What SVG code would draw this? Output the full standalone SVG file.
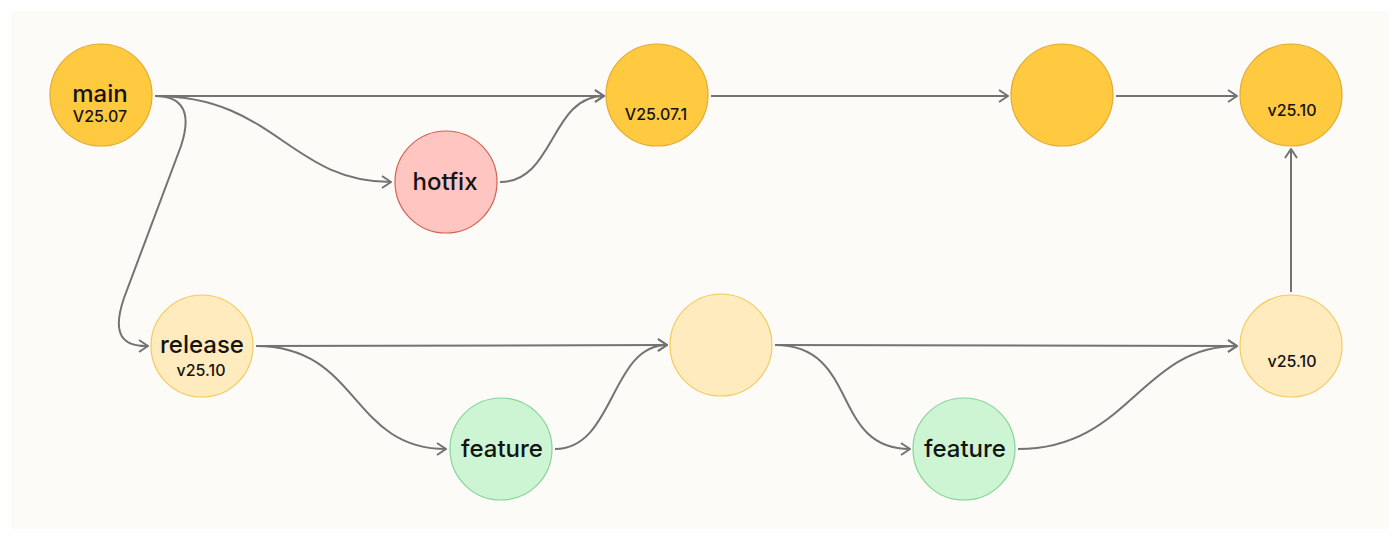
<svg xmlns="http://www.w3.org/2000/svg" width="1400" height="540" viewBox="0 0 1400 540">
<defs>
<style>
.edge{fill:none;stroke:#737373;stroke-width:2;}
.main{fill:#FFC940;stroke:#E3AA2F;stroke-width:1.2;}
.rel{fill:#FFEBBE;stroke:#F2CB5E;stroke-width:1.2;}
.hot{fill:#FFC6C1;stroke:#D5604D;stroke-width:1.2;}
.feat{fill:#CDF5D4;stroke:#85D495;stroke-width:1.2;}
text{font-family:Inter,"Noto Sans","Liberation Sans",sans-serif;fill:#141414;text-anchor:middle;font-weight:500;}
.big{font-size:24px;}
.small{font-size:16px;}
</style>
<marker id="arr" viewBox="0 0 12 14" refX="11" refY="7" markerWidth="12" markerHeight="14" markerUnits="userSpaceOnUse" orient="auto">
<path d="M2,1 L11,7 L2,13" fill="none" stroke="#737373" stroke-width="2"/>
</marker>
</defs>
<rect x="0" y="0" width="1400" height="540" fill="#FFFFFF"/>
<rect x="11" y="11" width="1378" height="518" fill="#FCFBF8"/>
<g id="connectors">
<path class="edge" marker-end="url(#arr)" d="M155,96 L604,96"/>
<path class="edge" marker-end="url(#arr)" d="M155,96 C275,96 290,182 391,182"/>
<path class="edge" marker-end="url(#arr)" d="M500,182 C555,182 550,96 604,96"/>
<path class="edge" d="M155,96 C192,96 188,125 181,146 L124,298 C111,336 124,346 146,346"/>
<path class="edge" marker-end="url(#arr)" d="M140,346 L148,346"/>
<path class="edge" marker-end="url(#arr)" d="M711,96 L1008,96"/>
<path class="edge" marker-end="url(#arr)" d="M1116,96 L1237,96"/>
<path class="edge" marker-end="url(#arr)" d="M1291,292 L1291,149"/>
<path class="edge" marker-end="url(#arr)" d="M256,346 L667,345"/>
<path class="edge" marker-end="url(#arr)" d="M256,346 C360,346 350,449 446,449"/>
<path class="edge" marker-end="url(#arr)" d="M555,449 C615,449 610,345 667,345"/>
<path class="edge" marker-end="url(#arr)" d="M775,345 L1237,346"/>
<path class="edge" marker-end="url(#arr)" d="M775,345 C860,345 830,449 910,449"/>
<path class="edge" marker-end="url(#arr)" d="M1018,449 C1130,449 1140,346 1237,346"/>
</g>
<g id="main">
<circle class="main" cx="101" cy="95" r="51"/>
<text class="big" x="100" y="102">main</text>
<text class="small" x="100" y="122">V25.07</text>
</g>
<g id="hotfix">
<circle class="hot" cx="446" cy="182" r="51"/>
<text class="big" x="445" y="190">hotfix</text>
</g>
<g id="v25071">
<circle class="main" cx="657" cy="95" r="51"/>
<text class="small" x="656" y="120">V25.07.1</text>
</g>
<g id="mainmid">
<circle class="main" cx="1062" cy="95" r="51"/>
</g>
<g id="main2510">
<circle class="main" cx="1291" cy="95" r="51"/>
<text class="small" x="1292" y="116">v25.10</text>
</g>
<g id="release">
<circle class="rel" cx="202" cy="346" r="51"/>
<text class="big" x="202" y="353">release</text>
<text class="small" x="201" y="376">v25.10</text>
</g>
<g id="relmid">
<circle class="rel" cx="721" cy="345" r="51"/>
</g>
<g id="rel2510">
<circle class="rel" cx="1291" cy="346" r="51"/>
<text class="small" x="1292" y="367">v25.10</text>
</g>
<g id="feature1">
<circle class="feat" cx="501" cy="449" r="51"/>
<text class="big" x="502" y="457">feature</text>
</g>
<g id="feature2">
<circle class="feat" cx="964" cy="449" r="51"/>
<text class="big" x="965" y="457">feature</text>
</g>
</svg>
